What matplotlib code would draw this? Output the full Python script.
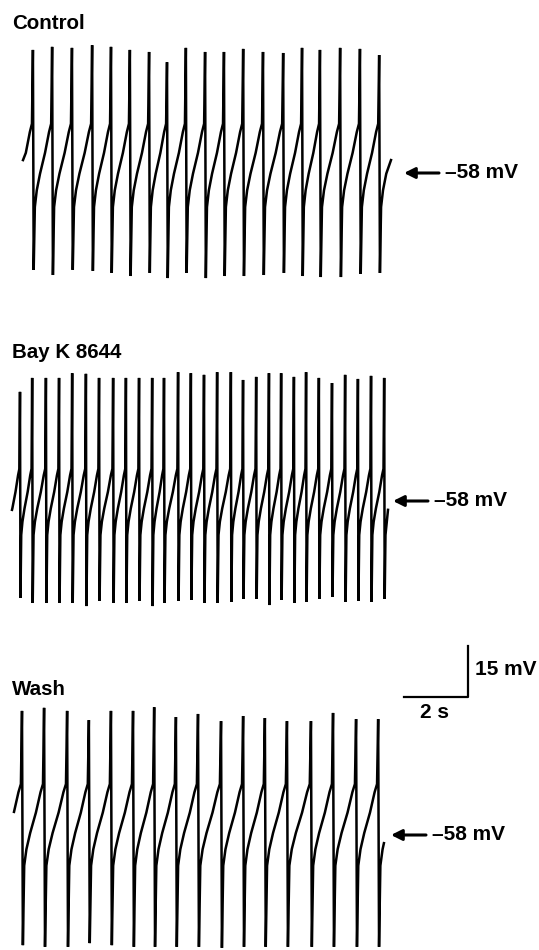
import matplotlib
matplotlib.use("Agg")
import matplotlib.pyplot as plt

plt.rcParams['font.family'] = ['Liberation Sans', 'DejaVu Sans']

# --- data (time in s from trace start, voltage in mV) ---
ctrl_spike_t = [0.31, 0.91, 1.53, 2.16, 2.75, 3.34, 3.94, 4.50, 5.09, 5.69,
                6.28, 6.88, 7.50, 8.13, 8.72, 9.28, 9.91, 10.53, 11.13]
ctrl_peak = [-21.8, -20.9, -21.2, -20.4, -20.9, -21.8, -22.4, -25.4, -21.2, -22.4,
             -22.4, -21.5, -22.4, -22.7, -21.2, -21.8, -21.2, -21.5, -23.3]
ctrl_trough = [-86.5, -88.0, -86.5, -86.8, -87.4, -88.3, -87.4, -88.9, -87.4, -88.9,
               -88.3, -88.3, -88.0, -87.4, -88.3, -88.6, -88.6, -87.7, -87.4]

bay_spike_t = [0.25, 0.63, 1.06, 1.47, 1.88, 2.31, 2.72, 3.16, 3.56, 3.97,
               4.38, 4.75, 5.19, 5.59, 6.00, 6.41, 6.84, 7.22, 7.63, 8.03,
               8.41, 8.81, 9.19, 9.59, 10.00, 10.41, 10.81, 11.22, 11.63]
bay_peak = [-25.9, -21.8, -21.8, -21.8, -20.4, -20.6, -21.8, -21.8, -21.8, -21.8,
            -21.8, -21.8, -20.1, -20.4, -20.9, -20.1, -20.1, -22.4, -21.5, -20.4,
            -20.4, -21.5, -20.1, -21.8, -23.3, -20.9, -22.1, -21.2, -21.8]
bay_trough = [-86.5, -88.0, -88.0, -88.0, -88.0, -88.9, -87.4, -88.0, -88.0, -87.4,
              -88.9, -88.0, -87.4, -87.1, -88.0, -88.0, -87.7, -86.8, -86.8, -88.6,
              -87.1, -88.0, -87.7, -86.8, -86.2, -87.7, -87.4, -87.7, -86.8]

wash_spike_t = [0.25, 0.94, 1.66, 2.34, 3.03, 3.72, 4.38, 5.06, 5.75, 6.47,
                7.16, 7.84, 8.53, 9.28, 9.97, 10.69, 11.38]
wash_peak = [-21.5, -20.6, -21.5, -24.2, -21.5, -21.5, -20.4, -23.3, -22.4, -24.5,
             -23.0, -23.6, -24.5, -24.5, -22.1, -23.9, -23.9]
wash_trough = [-90.4, -90.9, -90.9, -89.8, -90.4, -90.9, -90.9, -90.9, -90.9, -91.2,
               -90.9, -90.9, -90.9, -90.9, -90.9, -90.9, -90.9]

# trace start / end points and pacemaker levels (recovery, take-off)
ctrl_start, ctrl_end = -54.2, (11.50, -54.2)
bay_start, bay_end = -60.6, (11.75, -60.6)
wash_start, wash_end = -51.2, (11.56, -60.4)
ctrl_levels = (-68.0, -43.5)
bay_levels = (-68.0, -48.5)
wash_levels = (-67.0, -43.0)

# shape of the pacemaker phase: fraction of the cycle, fraction recovery->take-off
shape_phase = [0.10, 0.20, 0.37, 0.63, 0.84, 0.95]
shape_frac = [0.0, 0.20, 0.40, 0.65, 0.90, 1.0]
down_phase = 0.04

REST = -58
scale_t, scale_v = 2, 15

PX_S = 32.0   # pixels per second
PX_MV = 3.4   # pixels per mV
W, H = 539, 950


def build_trace(v0, spikes, peaks, troughs, end, levels):
    rec, kink = levels
    tt, vv = [0.0], [v0]
    P = spikes[1] - spikes[0]
    for ph, fr in zip(shape_phase, shape_frac):
        t = spikes[0] - (1 - ph) * P
        if t > 0:
            tt.append(t)
            vv.append(rec + fr * (kink - rec))
    n = len(spikes)
    for i in range(n):
        ts = spikes[i]
        P = spikes[i + 1] - ts if i + 1 < n else ts - spikes[i - 1]
        tt.append(ts)
        vv.append(peaks[i])
        tt.append(ts + down_phase * P)
        vv.append(troughs[i])
        for ph, fr in zip(shape_phase, shape_frac):
            t = ts + ph * P
            if i == n - 1 and t >= end[0]:
                break
            tt.append(t)
            vv.append(rec + fr * (kink - rec))
    tt.append(end[0])
    vv.append(end[1])
    return tt, vv


fig = plt.figure(figsize=(W / 100, H / 100), dpi=100)

panels = [
    # label, trace x start px, rest line y px, label baseline px, arrow head px, data
    ("Control", 23, 173, 29, 404, (ctrl_start, ctrl_spike_t, ctrl_peak, ctrl_trough, ctrl_end, ctrl_levels)),
    ("Bay K 8644", 12, 501, 358, 393, (bay_start, bay_spike_t, bay_peak, bay_trough, bay_end, bay_levels)),
    ("Wash", 14, 835, 695, 391, (wash_start, wash_spike_t, wash_peak, wash_trough, wash_end, wash_levels)),
]

axes = []
for label, x0, yrest, ylab, xhead, d in panels:
    vtop, vbot = 0, -100
    top_px = yrest - (vtop - REST) * PX_MV
    bot_px = yrest - (vbot - REST) * PX_MV
    ax = fig.add_axes([0, 1 - bot_px / H, 1, (bot_px - top_px) / H])
    ax.set_xlim(-x0 / PX_S, (W - x0) / PX_S)
    ax.set_ylim(vbot, vtop)
    ax.axis('off')
    ax.patch.set_alpha(0)

    tt, vv = build_trace(*d)
    ax.plot(tt, vv, color='black', lw=1.8, solid_joinstyle='miter')

    # arrow marking -58 mV
    th = (xhead - x0) / PX_S
    ax.annotate('', xy=(th, REST), xytext=(th + 35 / PX_S, REST),
                arrowprops=dict(arrowstyle='-|>', color='black', lw=2.2,
                                mutation_scale=16, shrinkA=0, shrinkB=0))
    ax.text(th + 41 / PX_S, REST, '–58 mV', fontsize=15, fontweight='bold',
            ha='left', va='center')

    fig.text(12 / W, 1 - ylab / H, label, fontsize=14.8, fontweight='bold',
             ha='left', va='baseline')
    axes.append((ax, x0, yrest))

# scale bar in the Wash panel
ax, x0, yrest = axes[2]
cx = (468 - x0) / PX_S
cy = REST - (697 - yrest) / PX_MV
ax.plot([cx - scale_t, cx, cx], [cy, cy, cy + scale_v], color='black', lw=1.6,
        clip_on=False)
ax.text(cx + 7 / PX_S, cy + scale_v / 2 + 0.5, '15 mV', fontsize=15,
        fontweight='bold', ha='left', va='center')
ax.text(cx - scale_t / 2 - 1 / PX_S, cy - 4.5, '2 s', fontsize=15,
        fontweight='bold', ha='center', va='center')

fig.savefig('out.png', dpi=100)
